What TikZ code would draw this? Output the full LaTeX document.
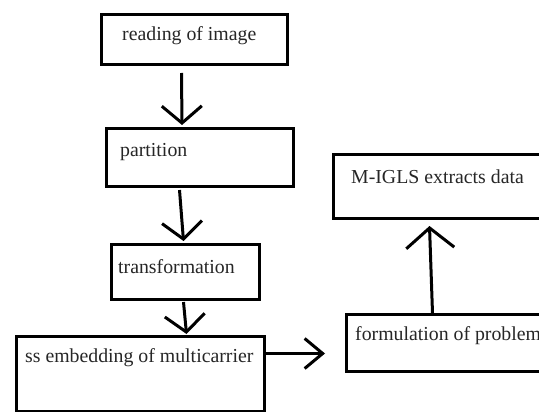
\documentclass[tikz,border=0pt]{standalone}
\usepackage{fontspec}
\setmainfont{Liberation Serif}
\usetikzlibrary{arrows.meta, positioning}

\begin{document}
\begin{tikzpicture}[x=1pt, y=-1pt,
  box/.style={draw, line width=3pt, inner sep=0pt, anchor=north west},
  lbl/.style={anchor=base west, inner sep=0pt, text=black!85, font=\fontsize{19.8}{22}\selectfont},
  arr/.style={line width=3pt, -{Straight Barb[length=17pt, width=40pt]}}]
% page
\useasboundingbox (0,0) rectangle (539,412);
\clip (0,0) rectangle (539,412);
\fill[white] (0,0) rectangle (539,412);
% boxes
\node[box, minimum width=186pt, minimum height=50pt] (read) at (100,13) {};
\node[box, minimum width=187pt, minimum height=58pt] (part) at (105,127) {};
\node[box, minimum width=148pt, minimum height=55pt] (trans) at (110,243) {};
\node[box, minimum width=248pt, minimum height=75pt] (embed) at (15,335) {};
\node[box, minimum width=220pt, minimum height=57pt] (form) at (345,313) {};
\node[box, minimum width=230pt, minimum height=64pt] (extract) at (332,153) {};
% texts
\node[lbl] (read-t) at (122,41) {reading of image};
\node[lbl] (part-t) at (120,157) {partition};
\node[lbl] (trans-t) at (118,273) {transformation};
\node[lbl] (embed-t) at (25,362) {ss embedding of multicarrier};
\node[lbl] (form-t) at (355,340) {formulation of problem};
\node[lbl] (extract-t) at (351,183) {M-IGLS extracts data};
% arrows
\draw[arr] ([shift={(-13,7)}]read.south) -- ([shift={(-18,-2)}]part.north);
\draw[arr] ([shift={(-20.5,2)}]part.south) -- ([shift={(-2,-2)}]trans.north);
\draw[arr] ([shift={(-2,1)}]trans.south) -- ([shift={(46,-1)}]embed.north);
\draw[arr, -{Straight Barb[length=18pt, width=30pt]}] ([shift={(0,-20.5)}]embed.east) -- ([shift={(-20,10.5)}]form.west);
\draw[arr, -{Straight Barb[length=20pt, width=48pt]}] ([shift={(-24,0)}]form.north) -- ([shift={(-19,6)}]extract.south);
\end{tikzpicture}
\end{document}
